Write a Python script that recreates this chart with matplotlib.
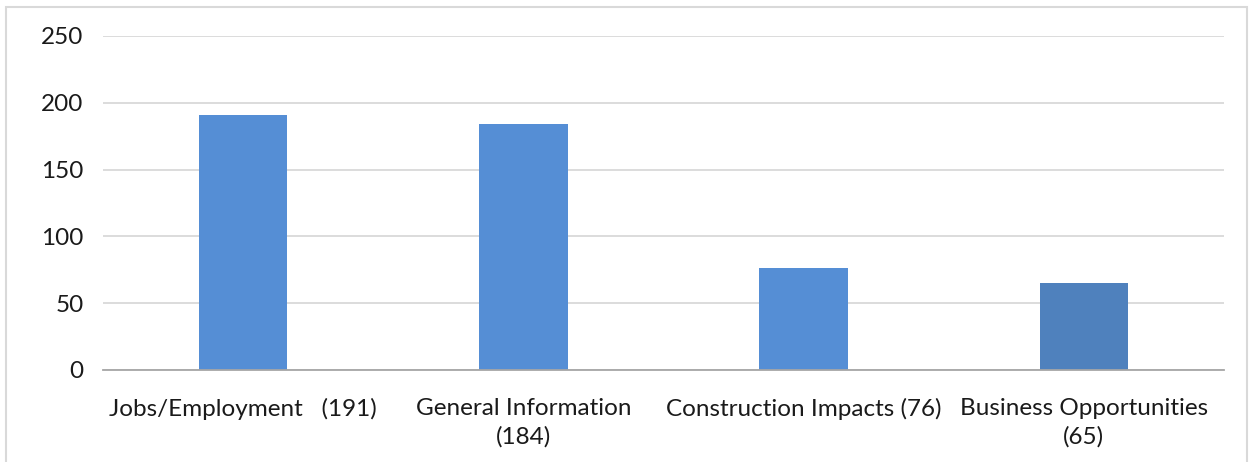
import matplotlib.pyplot as plt
import matplotlib.patches as mpatches
import numpy as np

categories = ["Jobs/Employment   (191)", "General Information\n(184)",
              "Construction Impacts (76)", "Business Opportunities\n(65)"]
values = [191, 184, 76, 65]
bar_colors = ["#558ED5", "#558ED5", "#558ED5", "#4F81BD"]
y_ticks = [0, 50, 100, 150, 200, 250]

plt.rcParams['font.family'] = ['Lato', 'DejaVu Sans']

fig = plt.figure(figsize=(12.55, 4.62), dpi=100)
ax = fig.add_axes([103 / 1255, 1 - 370 / 462, (1224 - 103) / 1255, (370 - 36) / 462])

x = np.arange(len(categories))
ax.bar(x, values, width=0.315, color=bar_colors, zorder=3)

ax.set_xlim(-0.5, len(categories) - 0.5)
ax.set_ylim(0, 250)
ax.set_yticks(y_ticks)
ax.set_xticks(x)
ax.set_xticklabels(categories, fontsize=17.5, color="#1A1A1A", linespacing=1.4)
ax.tick_params(axis='y', labelsize=17.5, labelcolor="#1A1A1A", length=0, pad=14)
ax.tick_params(axis='x', length=0, pad=20)

ax.grid(axis='y', color="#D9D9D9", linewidth=1.3, zorder=0)
for s in ["top", "right", "left"]:
    ax.spines[s].set_visible(False)
ax.spines["bottom"].set_color("#A6A6A6")
ax.spines["bottom"].set_linewidth(1.3)
ax.spines["bottom"].set_zorder(4)

# outer chart border
fig.patches.append(mpatches.Rectangle((6 / 1255, -0.05), (1247 - 6) / 1255, 1.05 - 7 / 462,
                                      transform=fig.transFigure, fill=False,
                                      edgecolor="#D9D9D9", linewidth=1.5))

fig.savefig("out.png", dpi=100)
